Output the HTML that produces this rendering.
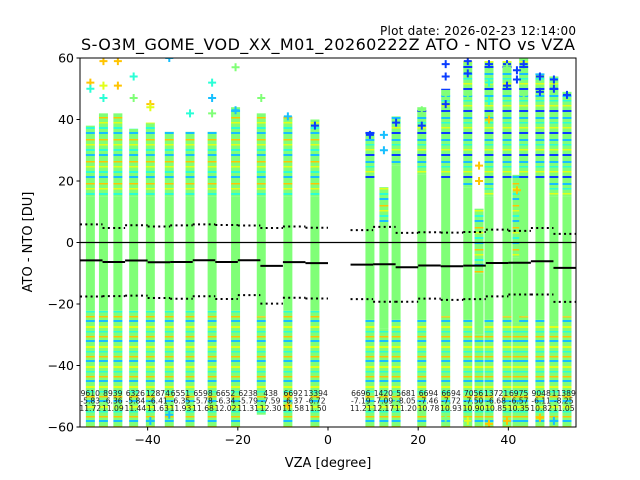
<!DOCTYPE html>
<html><head><meta charset="utf-8"><style>
html,body{margin:0;padding:0;background:#fff;}
svg{display:block;font-family:"DejaVu Sans","Liberation Sans",sans-serif;}
</style></head><body>
<svg id="chart" width="640" height="480" viewBox="0 0 640 480" xmlns="http://www.w3.org/2000/svg">
<defs>
<clipPath id="clip"><rect x="80" y="58" width="496" height="369"/></clipPath>
<pattern id="mixUpL" width="9" height="22" patternUnits="userSpaceOnUse">
<rect width="9" height="22" fill="#80ff77"/><rect y="0" width="9" height="2" fill="#16bfff"/><rect y="7" width="9" height="1.5" fill="#ffc400"/><rect y="12" width="9" height="1.5" fill="#e2ff18"/><rect y="17" width="9" height="2" fill="#2affd6"/></pattern>
<pattern id="mixUpR" width="9" height="22" patternUnits="userSpaceOnUse">
<rect width="9" height="22" fill="#80ff77"/><rect y="0" width="9" height="2" fill="#0a3cff"/><rect y="7" width="9" height="2" fill="#16bfff"/><rect y="12" width="9" height="1.5" fill="#2affd6"/><rect y="17" width="9" height="1.5" fill="#e2ff18"/></pattern>
<pattern id="mixLo" width="9" height="20" patternUnits="userSpaceOnUse">
<rect width="9" height="20" fill="#80ff77"/><rect y="0" width="9" height="2" fill="#16bfff"/><rect y="6" width="9" height="2" fill="#e2ff18"/><rect y="11" width="9" height="1.5" fill="#2affd6"/><rect y="16" width="9" height="1.5" fill="#ffc400"/></pattern>
</defs>
<g id="plot" clip-path="url(#clip)"></g>
<g id="axes"></g>
</svg>
<script>
const colVza = [-52.7,-49.8,-46.6,-43.1,-39.4,-35.2,-30.6,-25.7,-20.5,-14.8,-8.9,-2.9,9.3,12.4,15.1,20.8,26.1,31.0,33.5,35.7,39.7,41.9,43.4,47.0,50.1,53.0];
const colTop = [38,42,42,37,39,36,36,36,44,42,41,40,36,18,41,44,50,59,11,59,59,22,60,55,54,49];
const colGreenTop = [15,15,15,15,15,15,15,15,15,15,15,15,20,5,25,22,20,18,-10,15,20,-5,20,20,15,15];
const colGreenBot = [-22,-22,-22,-22,-22,-22,-22,-22,-22,-24,-22,-22,-25,-28,-25,-25,-24,-25,-30,-25,-24,-26,-24,-25,-26,-24];
const colBottom = [-60,-60,-60,-60,-60,-60,-60,-60,-60,-56,-60,-60,-60,-60,-60,-60,-60,-60,-60,-60,-60,-60,-60,-60,-60,-60];
const colUpStyle = ["L","L","L","L","L","L","L","L","L","L","L","L","R","L","R","R","R","R","L","R","R","L","R","R","R","R"];
const outVza = [-52.7,-52.7,-49.8,-49.8,-49.8,-46.6,-46.6,-43.1,-43.1,-39.4,-39.4,-35.2,-30.6,-25.7,-25.7,-25.7,-20.5,-20.5,-14.8,-8.9,-2.9,9.3,12.4,12.4,15.1,20.8,20.8,26.1,26.1,26.1,26.1,31.0,31.0,31.0,35.7,35.7,35.7,39.7,39.7,39.7,41.9,41.9,43.4,43.4,47.0,47.0,50.1,50.1,53.0,33.5,33.5,41.9,35.7,20.8,26.1,35.7,39.7,47.0,50.1,15.1,31.0,-39.4,-35.2,-46.6,-8.9,-8.9];
const outVal = [52,50,59,51,47,59,51,54,47,45,44,60,42,52,47,42,57,43,47,41,38,35,35,30,39,43,38,58,54,48,45,59,55,48,58,52,46,58,57,51,56,53,58,48,54,49,53,50,48,25,20,17,40,-55,-57,-59,-58,-57,-58,-52,-58,-58,-56,-53,-50,-53];
const outCol = ["o","c","o","y","c","o","o","c","l","o","y","s","c","c","s","l","l","s","l","s","b","b","s","s","b","l","b","b","b","l","b","b","b","l","b","c","c","b","l","b","b","b","b","l","b","b","b","b","b","o","o","o","o","l","l","o","o","o","s","l","y","s","s","l","o","o"];
const binStart = [-55,-50,-45,-40,-35,-30,-25,-20,-15,-10,-5,5,10,15,20,25,30,35,40,45,50];
const binCount = ["9610","8939","6326","12874","6551","6598","6652","6238","438","6692","13394","6696","1420","5681","6694","6694","7056","13721","6975","9048","11389"];
const binMean = [-5.83,-6.36,-5.84,-6.41,-6.35,-5.78,-6.34,-5.79,-7.59,-6.37,-6.72,-7.19,-7.09,-8.05,-7.46,-7.72,-7.50,-6.68,-6.57,-6.11,-8.25];
const binStd = [11.72,11.09,11.44,11.63,11.93,11.68,12.02,11.31,12.30,11.58,11.50,11.21,12.17,11.20,10.78,10.93,10.90,10.85,10.35,10.82,11.05];
const xTicks = [-40,-20,0,20,40];
const yTicks = [-60,-40,-20,0,20,40,60];

const NS="http://www.w3.org/2000/svg";
const X0=80,X1=576,Y0=58,Y1=427;
const xs=v=>X0+(v+55)/110*(X1-X0);
const ys=v=>Y1-(v+60)/120*(Y1-Y0);
const colors={o:"#ffc400",c:"#2affd6",y:"#e2ff18",l:"#80ff77",s:"#16bfff",b:"#0a3cff"};
function mk(tag,attrs,parent){const e=document.createElementNS(NS,tag);for(const k in attrs)e.setAttribute(k,attrs[k]);parent.appendChild(e);return e;}
const plot=document.getElementById('plot'),axes=document.getElementById('axes');

colVza.forEach((v,i)=>{
  const g=mk('g',{},plot);
  
  
  const x=xs(v)-4.5;
  mk('rect',{x:x,y:ys(colTop[i]),width:9,height:ys(colGreenTop[i])-ys(colTop[i]),fill:colUpStyle[i]==="R"?"url(#mixUpR)":"url(#mixUpL)"},g);
  mk('rect',{x:x,y:ys(colGreenTop[i]),width:9,height:ys(colGreenBot[i])-ys(colGreenTop[i]),fill:"#80ff77"},g);
  mk('rect',{x:x,y:ys(colGreenBot[i]),width:9,height:ys(colBottom[i])-ys(colGreenBot[i]),fill:"url(#mixLo)"},g);
});
outVza.forEach((v,i)=>{
  const x=xs(v),y=ys(outVal[i]),c=colors[outCol[i]];
  const p=mk('path',{d:`M${x-4} ${y}H${x+4}M${x} ${y-4}V${y+4}`,stroke:c,'stroke-width':2,fill:'none'},plot);
  
  
});
const z=mk('line',{x1:X0,x2:X1,y1:ys(0),y2:ys(0),stroke:'#000','stroke-width':1.2},plot);


binStart.forEach((b,i)=>{
  const xa=xs(b),xb=xs(b+5),m=binMean[i],s=binStd[i];
  const l=mk('line',{x1:xa,x2:xb,y1:ys(m),y2:ys(m),stroke:'#000','stroke-width':2},plot);
  
  
  [m+s,m-s].forEach(val=>{
    const d=mk('line',{x1:xa,x2:xb,y1:ys(val),y2:ys(val),stroke:'#000','stroke-width':2,'stroke-dasharray':'2 3.3'},plot);
    
    
  });
  const t=mk('text',{x:xs(b+2.5)-1,y:396,'font-size':7.6,'text-anchor':'middle',fill:'#222'},plot);
  
  
  [binCount[i],m.toFixed(2),s.toFixed(2)].forEach((str,k)=>{const ts=mk('tspan',{x:xs(b+2.5)-1,dy:k?7.5:0},t);ts.textContent=str;});
});
const fr=mk('rect',{x:X0,y:Y0,width:X1-X0,height:Y1-Y0,fill:'none',stroke:'#000','stroke-width':1},axes);


xTicks.forEach(v=>{
  const x=xs(v);
  const tk=mk('line',{x1:x,x2:x,y1:Y1,y2:Y1+3.5,stroke:'#000'},axes);
  
  
  const t=mk('text',{x:x,y:Y1+17,'font-size':12.5,'text-anchor':'middle'},axes);
  
  
  t.textContent=v<0?'\u2212'+(-v):v;
});
yTicks.forEach(v=>{
  const y=ys(v);
  const tk=mk('line',{x1:X0-3.5,x2:X0,y1:y,y2:y,stroke:'#000'},axes);
  
  
  const t=mk('text',{x:X0-6,y:y+4.5,'font-size':12.5,'text-anchor':'end'},axes);
  
  
  t.textContent=v<0?'\u2212'+(-v):v;
});
</script>
<div style="position:absolute;left:0;top:0;width:640px;height:480px;pointer-events:none">
<svg width="640" height="480" style="position:absolute;left:0;top:0">
<text x="576" y="35" font-size="12" text-anchor="end" textLength="196">Plot date: 2026-02-23 12:14:00</text>
<text x="328" y="50" font-size="16" text-anchor="middle" textLength="494">S-O3M_GOME_VOD_XX_M01_20260222Z ATO - NTO vs VZA</text>
<text x="328" y="467" font-size="13" text-anchor="middle">VZA [degree]</text>
<text x="32" y="242" font-size="13" text-anchor="middle" transform="rotate(-90 32 242)">ATO - NTO [DU]</text>
</svg></div>
</body></html>
